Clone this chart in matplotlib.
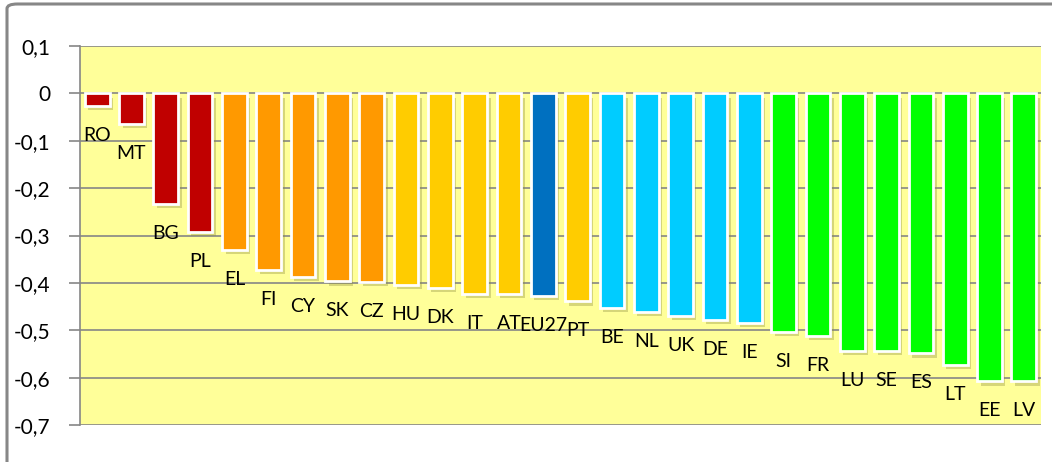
import matplotlib
matplotlib.use("Agg")
import matplotlib.pyplot as plt
import matplotlib.patheffects as pe
from matplotlib.patches import FancyBboxPatch

# country codes and values
countries = ["RO", "MT", "BG", "PL", "EL", "FI", "CY", "SK", "CZ", "HU", "DK", "IT",
             "AT", "EU27", "PT", "BE", "NL", "UK", "DE", "IE", "SI", "FR", "LU", "SE",
             "ES", "LT", "EE", "LV"]
values = [-0.027, -0.064, -0.233, -0.293, -0.330, -0.372, -0.388, -0.397, -0.398,
          -0.404, -0.410, -0.423, -0.423, -0.428, -0.439, -0.452, -0.461, -0.469,
          -0.478, -0.485, -0.504, -0.512, -0.544, -0.544, -0.549, -0.574, -0.608,
          -0.608]
groups = ["red"] * 4 + ["orange"] * 5 + ["gold"] * 4 + ["eu"] + ["gold"] + \
         ["blue"] * 5 + ["green"] * 8
palette = {"red": "#C00000", "orange": "#FF9900", "gold": "#FFCC00",
           "eu": "#0070C0", "blue": "#00CCFF", "green": "#00FF00"}
yticks = [0.1, 0.0, -0.1, -0.2, -0.3, -0.4, -0.5, -0.6, -0.7]
ytick_labels = ["0,1", "0", "-0,1", "-0,2", "-0,3", "-0,4", "-0,5", "-0,6", "-0,7"]

plt.rcParams["font.family"] = ["Lato", "DejaVu Sans"]

W, H = 1052, 462
fig = plt.figure(figsize=(W / 100, H / 100), dpi=100)

# outer chart frame (cut off at right and bottom like the screenshot)
frame = FancyBboxPatch((7 / W, -0.1), 1.2, 1 - 4 / H + 0.1,
                       boxstyle="round,pad=0,rounding_size=0.01",
                       transform=fig.transFigure, facecolor="none",
                       edgecolor="#878787", linewidth=2.2)
fig.patches.append(frame)

ax = fig.add_axes([80 / W, 37 / H, (1041 - 80) / W, (425 - 46) / H])
ax.set_facecolor("#FFFF99")

x = list(range(len(countries)))
colors = [palette[g] for g in groups]
bars = ax.bar(x, values, width=0.72, color=colors, edgecolor="white",
              linewidth=2.0, zorder=3)
for b in bars:
    b.set_path_effects([pe.SimplePatchShadow(offset=(2.5, -3), shadow_rgbFace="#8a8a40",
                                             alpha=0.35), pe.Normal()])

for xi, v, name in zip(x, values, countries):
    ax.annotate(name, (xi, v), xytext=(0, -21), textcoords="offset pixels",
                ha="center", va="top", fontsize=14, color="black", zorder=4)

ax.set_xlim(-0.5, len(countries) - 0.5)
ax.set_ylim(-0.7, 0.1)
ax.set_yticks(yticks)
ax.set_yticklabels(ytick_labels, fontsize=15)
ax.set_xticks([])
ax.yaxis.grid(True, color="#868686", linewidth=1.2, zorder=0)
ax.set_axisbelow(True)
ax.tick_params(axis="y", length=8, width=1.2, color="#868686", pad=13.5)
for s in ["top", "right", "bottom"]:
    ax.spines[s].set_visible(False)
ax.spines["left"].set_color("#868686")
ax.spines["left"].set_linewidth(1.2)

fig.savefig("out.png", dpi=100)
